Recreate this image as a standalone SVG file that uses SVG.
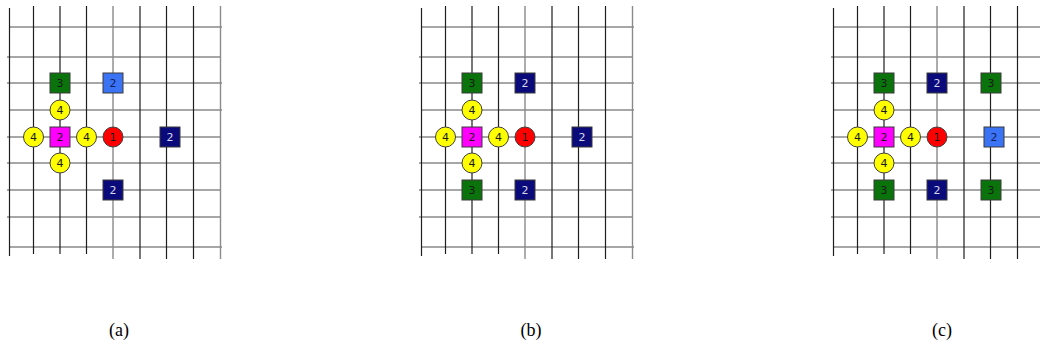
<svg xmlns="http://www.w3.org/2000/svg" width="1040" height="349" viewBox="0 0 1040 349">
<style>
.bg{fill:#fff}
.h{stroke:#8a8a8a;stroke-width:1.4}
.v{stroke:#1e1e1e;stroke-width:1.2}
.vg{stroke:#8a8a8a;stroke-width:1.4}
.sq{stroke:#3a3a3a;stroke-width:1}
.ci{stroke:#404040;stroke-width:1}
.green{fill:#0b730b}
.navy{fill:#0a0a7a}
.lblue{fill:#3b73f5}
.mag{fill:#ff00ff}
.yel{fill:#ffff00}
.red{fill:#ff0000}
.t{font-family:"DejaVu Sans","Liberation Sans",sans-serif;font-size:11px;text-anchor:middle;dominant-baseline:central}
.tdark{fill:#1a1a1a}
.tlight{fill:#d8d8e8}
.tnavy{fill:#102060}
.cap{font-family:"Liberation Serif","Times New Roman",serif;font-size:18px;text-anchor:middle;fill:#000}
</style>
<defs>
<g id="grid">
<line class="h" x1="9" y1="27" x2="222" y2="27"/>
<line class="h" x1="7" y1="57" x2="221" y2="57"/>
<line class="h" x1="7" y1="83" x2="222" y2="83"/>
<line class="h" x1="9" y1="110" x2="222" y2="110"/>
<line class="h" x1="7" y1="137" x2="221" y2="137"/>
<line class="h" x1="7" y1="163" x2="221" y2="163"/>
<line class="h" x1="7" y1="190" x2="221" y2="190"/>
<line class="h" x1="7" y1="217" x2="221" y2="217"/>
<line class="h" x1="9" y1="247" x2="222" y2="247"/>
<line class="v" x1="9.5" y1="8" x2="9.5" y2="256"/>
<line class="v" x1="33.5" y1="6" x2="33.5" y2="254"/>
<line class="v" x1="60" y1="6" x2="60" y2="254"/>
<line class="v" x1="86.5" y1="6" x2="86.5" y2="254"/>
<line class="vg" x1="113" y1="6" x2="113" y2="259"/>
<line class="v" x1="140" y1="6" x2="140" y2="259"/>
<line class="v" x1="166.5" y1="6" x2="166.5" y2="259"/>
<line class="v" x1="193.5" y1="6" x2="193.5" y2="259"/>
<line class="vg" x1="220.5" y1="6" x2="220.5" y2="259"/>
</g>
</defs>
<rect class="bg" x="0" y="0" width="1040" height="349"/>
<g id="connectors">
<use href="#grid"/>
<use href="#grid" transform="translate(412,0)"/>
<use href="#grid" transform="translate(824,0)"/>
</g>

<!-- Panel (a) -->
<g id="a-green3"><rect class="sq green" x="50" y="73" width="20" height="20"/><text class="t tdark" x="60" y="83">3</text></g>
<g id="a-lblue2"><rect class="sq lblue" x="103" y="73" width="20" height="20"/><text class="t tnavy" x="113" y="83">2</text></g>
<g id="a-y-top"><circle class="ci yel" cx="60" cy="110" r="10"/><text class="t tdark" x="60" y="110">4</text></g>
<g id="a-y-left"><circle class="ci yel" cx="33.5" cy="137" r="10"/><text class="t tdark" x="33.5" y="137">4</text></g>
<g id="a-mag2"><rect class="sq mag" x="50" y="127" width="20" height="20"/><text class="t tdark" x="60" y="137">2</text></g>
<g id="a-y-right"><circle class="ci yel" cx="86.5" cy="137" r="10"/><text class="t tdark" x="86.5" y="137">4</text></g>
<g id="a-red1"><circle class="ci red" cx="113" cy="137" r="10"/><text class="t tdark" x="113" y="137">1</text></g>
<g id="a-navy-right"><rect class="sq navy" x="160" y="127" width="20" height="20"/><text class="t tlight" x="170" y="137">2</text></g>
<g id="a-y-bottom"><circle class="ci yel" cx="60" cy="163" r="10"/><text class="t tdark" x="60" y="163">4</text></g>
<g id="a-navy-bottom"><rect class="sq navy" x="103" y="180" width="20" height="20"/><text class="t tlight" x="113" y="190">2</text></g>

<!-- Panel (b) -->
<g id="b-green-top"><rect class="sq green" x="462" y="73" width="20" height="20"/><text class="t tdark" x="472" y="83">3</text></g>
<g id="b-navy-top"><rect class="sq navy" x="515" y="73" width="20" height="20"/><text class="t tlight" x="525" y="83">2</text></g>
<g id="b-y-top"><circle class="ci yel" cx="472" cy="110" r="10"/><text class="t tdark" x="472" y="110">4</text></g>
<g id="b-y-left"><circle class="ci yel" cx="445.5" cy="137" r="10"/><text class="t tdark" x="445.5" y="137">4</text></g>
<g id="b-mag2"><rect class="sq mag" x="462" y="127" width="20" height="20"/><text class="t tdark" x="472" y="137">2</text></g>
<g id="b-y-right"><circle class="ci yel" cx="498.5" cy="137" r="10"/><text class="t tdark" x="498.5" y="137">4</text></g>
<g id="b-red1"><circle class="ci red" cx="525" cy="137" r="10"/><text class="t tdark" x="525" y="137">1</text></g>
<g id="b-navy-right"><rect class="sq navy" x="572" y="127" width="20" height="20"/><text class="t tlight" x="582" y="137">2</text></g>
<g id="b-y-bottom"><circle class="ci yel" cx="472" cy="163" r="10"/><text class="t tdark" x="472" y="163">4</text></g>
<g id="b-green-bottom"><rect class="sq green" x="462" y="180" width="20" height="20"/><text class="t tdark" x="472" y="190">3</text></g>
<g id="b-navy-bottom"><rect class="sq navy" x="515" y="180" width="20" height="20"/><text class="t tlight" x="525" y="190">2</text></g>

<!-- Panel (c) -->
<g id="c-green-tl"><rect class="sq green" x="874" y="73" width="20" height="20"/><text class="t tdark" x="884" y="83">3</text></g>
<g id="c-navy-top"><rect class="sq navy" x="927" y="73" width="20" height="20"/><text class="t tlight" x="937" y="83">2</text></g>
<g id="c-green-tr"><rect class="sq green" x="981" y="73" width="20" height="20"/><text class="t tdark" x="991" y="83">3</text></g>
<g id="c-y-top"><circle class="ci yel" cx="884" cy="110" r="10"/><text class="t tdark" x="884" y="110">4</text></g>
<g id="c-y-left"><circle class="ci yel" cx="857.5" cy="137" r="10"/><text class="t tdark" x="857.5" y="137">4</text></g>
<g id="c-mag2"><rect class="sq mag" x="874" y="127" width="20" height="20"/><text class="t tdark" x="884" y="137">2</text></g>
<g id="c-y-right"><circle class="ci yel" cx="910.5" cy="137" r="10"/><text class="t tdark" x="910.5" y="137">4</text></g>
<g id="c-red1"><circle class="ci red" cx="937" cy="137" r="10"/><text class="t tdark" x="937" y="137">1</text></g>
<g id="c-lblue-right"><rect class="sq lblue" x="984" y="127" width="20" height="20"/><text class="t tnavy" x="994" y="137">2</text></g>
<g id="c-y-bottom"><circle class="ci yel" cx="884" cy="163" r="10"/><text class="t tdark" x="884" y="163">4</text></g>
<g id="c-green-bl"><rect class="sq green" x="874" y="180" width="20" height="20"/><text class="t tdark" x="884" y="190">3</text></g>
<g id="c-navy-bottom"><rect class="sq navy" x="927" y="180" width="20" height="20"/><text class="t tlight" x="937" y="190">2</text></g>
<g id="c-green-br"><rect class="sq green" x="981" y="180" width="20" height="20"/><text class="t tdark" x="991" y="190">3</text></g>

<g id="captions">
<text class="cap" x="119" y="336">(a)</text>
<text class="cap" x="531" y="336">(b)</text>
<text class="cap" x="942" y="336">(c)</text>
</g>
</svg>
